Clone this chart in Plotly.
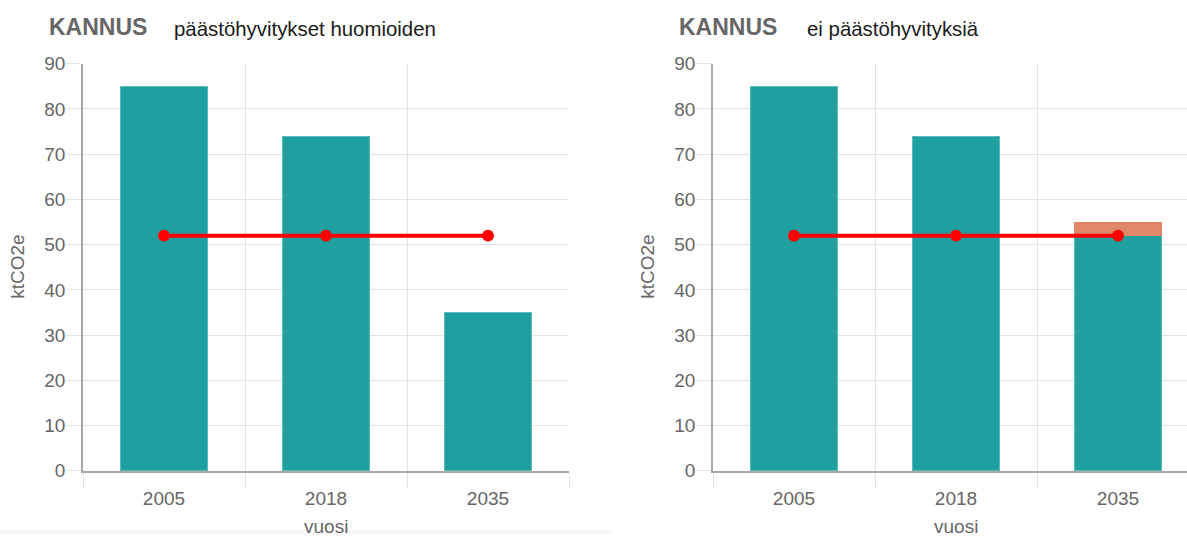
import plotly.graph_objects as go

years = ["2005", "2018", "2035"]
left_values = [85, 74, 35]
right_values = [85, 74, 52]
right_extra = [0, 0, 3]
target = [52, 52, 52]
y_ticks = [0, 10, 20, 30, 40, 50, 60, 70, 80, 90]

TEAL = "#1f9fa0"
ORANGE = "#df8768"
RED = "#ff0000"
GRID = "#e3e3e3"
AXIS = "#a8a8a8"
TXT = "#666666"
FONT = "Liberation Sans, Arial, Helvetica, sans-serif"

W, H = 1187, 545


def Y(y_px):
    # vertical placement helper (pixels from top of the picture -> figure pixels)
    return (y_px - 9) / 0.966


fig = go.Figure()

fig.add_trace(go.Bar(x=years, y=left_values, marker=dict(color=TEAL, line=dict(width=1, color="#5db9ba")),
                     width=0.54, xaxis="x", yaxis="y", showlegend=False))
fig.add_trace(go.Scatter(x=years, y=target, mode="lines+markers", line=dict(color=RED, width=4),
                         marker=dict(color=RED, size=12), xaxis="x", yaxis="y", showlegend=False))

fig.add_trace(go.Bar(x=years, y=right_values, marker=dict(color=TEAL, line=dict(width=1, color="#5db9ba")),
                     width=0.54, xaxis="x2", yaxis="y2", showlegend=False))
fig.add_trace(go.Bar(x=years, y=right_extra, marker=dict(color=ORANGE, line=dict(width=0)),
                     width=0.54, xaxis="x2", yaxis="y2", showlegend=False))
fig.add_trace(go.Scatter(x=years, y=target, mode="lines+markers", line=dict(color=RED, width=4),
                         marker=dict(color=RED, size=12), xaxis="x2", yaxis="y2", showlegend=False))

ybot = (H - Y(472)) / H
ytop = (H - Y(63)) / H


def xax(domain, rng):
    return dict(domain=domain, type="category", range=rng, showgrid=True, gridcolor=GRID, gridwidth=1,
                tickson="boundaries", ticks="outside", ticklen=16, tickcolor=GRID, tickwidth=1,
                ticklabelstandoff=10,
                showline=True, linecolor=AXIS, linewidth=1.5, zeroline=False,
                tickfont=dict(family=FONT, size=19, color=TXT), fixedrange=True)


def yax(anchor):
    return dict(domain=[ybot, ytop], range=[0, 90], tickvals=y_ticks, showgrid=True, gridcolor=GRID,
                gridwidth=1, ticks="outside", ticklen=15, tickcolor=GRID, tickwidth=1,
                ticklabelstandoff=-3,
                showline=True, linecolor=AXIS, linewidth=1.5, zeroline=False, anchor=anchor,
                tickfont=dict(family=FONT, size=19, color=TXT), fixedrange=True)


fig.update_layout(
    width=W, height=H, margin=dict(l=0, r=0, t=0, b=0),
    paper_bgcolor="white", plot_bgcolor="white", barmode="stack", bargap=0.46,
    xaxis=dict(**xax([83 / W, 569 / W], [-0.5, 2.5]), anchor="y"),
    yaxis=yax("x"),
    xaxis2=dict(**xax([713 / W, 1.0], [-0.5, 2.5 - 12 / 162]), anchor="y2"),
    yaxis2=yax("x2"),
    font=dict(family=FONT),
)

fig.add_shape(type="rect", xref="paper", yref="paper", x0=0, x1=612 / W, y0=0, y1=(H - Y(532)) / H,
              fillcolor="#f7f7f7", line=dict(width=0), layer="below")


def ann(text, x, y, size, color, bold=False, angle=0, xanchor="left"):
    fig.add_annotation(text=f"<b>{text}</b>" if bold else text, x=x / W, y=1 - Y(y) / H,
                       xref="paper", yref="paper",
                       showarrow=False, xanchor=xanchor, yanchor="middle", textangle=angle,
                       font=dict(family=FONT, size=size, color=color))


ann("KANNUS", 47, 26, 23, TXT, bold=True)
ann("päästöhyvitykset huomioiden", 172, 28, 20.4, "#1a1a1a")
ann("KANNUS", 677, 26, 23, TXT, bold=True)
ann("ei päästöhyvityksiä", 805, 28, 20.4, "#1a1a1a")
ann("ktCO2e", 18, 267, 19, TXT, angle=-90, xanchor="center")
ann("ktCO2e", 648, 267, 19, TXT, angle=-90, xanchor="center")
ann("vuosi", 326, 528, 19, TXT, xanchor="center")
ann("vuosi", 956, 528, 19, TXT, xanchor="center")

fig.write_html(
    "out.html",
    config={"displayModeBar": False},
    post_script=("document.documentElement.style.margin='0';document.documentElement.style.padding='0';"
                 "document.documentElement.style.height='545px';document.documentElement.style.overflow='hidden';"
                 "document.body.style.margin='0';document.body.style.padding='0';"
                 "document.body.style.height='545px';document.body.style.overflow='hidden';"),
)
